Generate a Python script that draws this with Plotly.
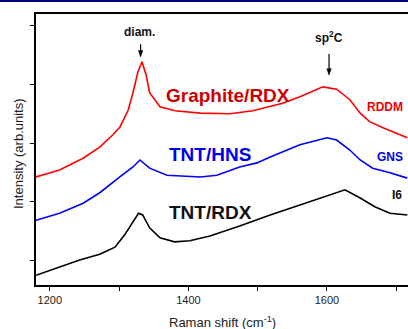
import plotly.graph_objects as go

# Raman spectra (x: Raman shift cm^-1, y: offset intensity, arb. units)
black_x = [1180, 1214, 1243, 1272, 1294, 1308, 1320, 1328, 1334, 1344, 1359, 1380, 1402, 1431,
           1474, 1518, 1561, 1597, 1626, 1648, 1669, 1691, 1716]
black_y = [-0.26, -0.12, 0.00, 0.10, 0.22, 0.43, 0.65, 0.80, 0.77, 0.55, 0.38, 0.31, 0.33, 0.41,
           0.58, 0.77, 0.94, 1.09, 1.20, 1.06, 0.91, 0.80, 0.77]

blue_x = [1180, 1214, 1248, 1272, 1301, 1320, 1330, 1344, 1369, 1417, 1441, 1474, 1499, 1518,
          1561, 1600, 1614, 1633, 1648, 1666, 1691, 1716]
blue_y = [0.68, 0.80, 0.97, 1.15, 1.42, 1.59, 1.71, 1.57, 1.45, 1.42, 1.45, 1.59, 1.66, 1.76,
          1.97, 2.09, 2.05, 1.88, 1.71, 1.57, 1.49, 1.40]

red_x = [1180, 1214, 1248, 1272, 1291, 1301, 1313, 1320, 1327, 1333, 1339, 1344, 1359, 1381,
         1417, 1460, 1493, 1536, 1561, 1594, 1614, 1633, 1648, 1662, 1681, 1701, 1716]
red_y = [1.42, 1.54, 1.74, 1.93, 2.14, 2.27, 2.56, 2.86, 3.21, 3.39, 3.16, 2.86, 2.62, 2.55,
         2.51, 2.50, 2.55, 2.68, 2.79, 2.96, 2.92, 2.74, 2.51, 2.36, 2.26, 2.17, 2.09]

x_ticks = [1200, 1400, 1600]
x_minor = [1300, 1500, 1700]
y_ticks = [0, 1, 2, 3, 4]

FONT = "Liberation Sans, Arial, sans-serif"

fig = go.Figure()
for xs, ys, col in [(black_x, black_y, "#000000"), (blue_x, blue_y, "#0000ff"), (red_x, red_y, "#ff0000")]:
    fig.add_trace(go.Scatter(x=xs, y=ys, mode="lines", line=dict(color=col, width=1.6),
                             showlegend=False, hoverinfo="skip"))

ann = []
def txt(x, y, t, size, color, bold=True):
    ann.append(dict(x=x, y=y, xref="x", yref="y", text=f"<b>{t}</b>" if bold else t,
                    showarrow=False, font=dict(family=FONT, size=size, color=color),
                    xanchor="center", yanchor="middle"))

txt(1457, 2.82, "Graphite/RDX", 19, "#cc0000")
txt(1431, 1.80, "TNT/HNS", 19, "#0000ee")
txt(1432, 0.82, "TNT/RDX", 19, "#111111")
txt(1684, 2.62, "RDDM", 12, "#ee0000")
txt(1691, 1.76, "GNS", 12, "#0000ee")
txt(1701, 1.11, "I6", 12, "#111111")
txt(1329, 3.90, "diam.", 12, "#111111")
txt(1603, 3.81, "sp<sup>2</sup>C", 12, "#111111")

ann.append(dict(x=-0.0484, y=0.487, xref="paper", yref="paper", text="Intensity (arb.units)",
                textangle=-90, showarrow=False, font=dict(family=FONT, size=13, color="#222222"),
                xanchor="center", yanchor="middle"))
ann.append(dict(x=0.5, y=-0.1365, xref="paper", yref="paper",
                text="Raman shift (cm<sup>-1</sup>)",
                showarrow=False, font=dict(family=FONT, size=13, color="#222222"),
                xanchor="center", yanchor="middle"))

# arrows drawn as shapes (shaft + head)
shapes = [dict(type="line", xref="paper", yref="paper", x0=-0.1, x1=1.0, y0=1.048, y1=1.048,
               line=dict(color="#000080", width=2))]
for x, ytop, ytip in [(1331, 3.69, 3.47), (1603, 3.52, 3.16)]:
    shapes.append(dict(type="line", xref="x", yref="y", x0=x, x1=x, y0=ytop, y1=ytip + 0.05,
                       line=dict(color="#000000", width=1.2)))
    shapes.append(dict(type="path", xref="x", yref="y",
                       path=f"M {x-3.2},{ytip+0.11} L {x+3.2},{ytip+0.11} L {x},{ytip} Z",
                       fillcolor="#000000", line=dict(color="#000000", width=0.5)))

fig.update_layout(
    width=408, height=329,
    margin=dict(l=36, r=0, t=14, b=44),
    paper_bgcolor="white", plot_bgcolor="white",
    annotations=ann,
    shapes=shapes,
    xaxis=dict(range=[1180, 1717], tickvals=x_ticks, ticktext=[str(v) for v in x_ticks],
               ticks="outside", ticklen=4, tickwidth=1, tickcolor="#000000",
               minor=dict(tickvals=x_minor, ticks="outside", ticklen=4, tickcolor="#000000"),
               showline=True, linecolor="#000000", linewidth=1.5, mirror=True,
               showgrid=False, zeroline=False,
               tickfont=dict(family=FONT, size=11, color="#222222")),
    yaxis=dict(range=[-0.427, 4.205], tickvals=y_ticks, showticklabels=False,
               ticks="outside", ticklen=4, tickwidth=1, tickcolor="#000000",
               showline=True, linecolor="#000000", linewidth=1.5, mirror=False,
               showgrid=False, zeroline=False),
)

fig.write_html("out.html")
